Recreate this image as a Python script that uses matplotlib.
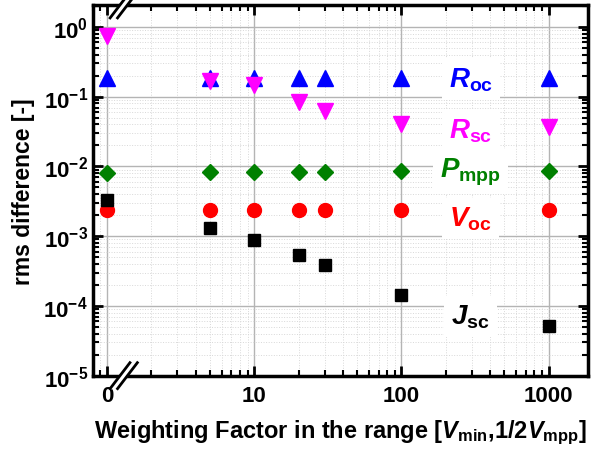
import matplotlib
matplotlib.use("Agg")
import matplotlib.pyplot as plt
import matplotlib.ticker as mticker
import numpy as np

plt.rcParams['font.family'] = 'Liberation Sans'
plt.rcParams['font.weight'] = 'bold'
plt.rcParams['axes.labelweight'] = 'bold'
plt.rcParams['mathtext.fontset'] = 'custom'
plt.rcParams['mathtext.rm'] = 'Liberation Sans:bold'
plt.rcParams['mathtext.it'] = 'Liberation Sans:bold:italic'
plt.rcParams['mathtext.bf'] = 'Liberation Sans:bold'

# weighting factors (0 is drawn at the break position, x=1)
weights = [0, 5, 10, 20, 30, 100, 1000]
r_oc = [0.185, 0.185, 0.185, 0.185, 0.185, 0.185, 0.185]
r_sc = [0.74, 0.17, 0.145, 0.084, 0.063, 0.041, 0.037]
p_mpp = [0.0080, 0.0082, 0.0083, 0.0084, 0.0084, 0.0085, 0.0086]
v_oc = [0.00237, 0.00237, 0.00237, 0.00237, 0.00237, 0.00237, 0.00237]
j_sc = [0.0033, 0.00133, 0.00089, 0.00054, 0.00039, 0.000143, 5.2e-5]

x_ticks = [1, 10, 100, 1000]
x_tick_labels = ['0', '10', '100', '1000']
y_ticks = [1e0, 1e-1, 1e-2, 1e-3, 1e-4, 1e-5]
y_tick_labels = [r'$\mathrm{10^{0}}$', r'$\mathrm{10^{-1}}$', r'$\mathrm{10^{-2}}$',
                 r'$\mathrm{10^{-3}}$', r'$\mathrm{10^{-4}}$', r'$\mathrm{10^{-5}}$']

x = [w if w > 0 else 1 for w in weights]

fig = plt.figure(figsize=(5.91, 4.56), dpi=100)
ax = fig.add_axes([0.157, 0.174, 0.838, 0.813])

ax.set_xscale('log')
ax.set_yscale('log')
ax.set_xlim(0.8, 1850)
ax.set_ylim(1e-5, 2.07)

ax.plot(x, r_oc, '^', color='#0000ff', ms=11, ls='none', zorder=3)
ax.plot(x, r_sc, 'v', color='#ff00ff', ms=11, ls='none', zorder=3)
ax.plot(x, p_mpp, 'D', color='#008000', ms=8, ls='none', zorder=3)
ax.plot(x, v_oc, 'o', color='#ff0000', ms=10, ls='none', zorder=3)
ax.plot(x, j_sc, 's', color='black', ms=9, ls='none', zorder=3)

box = dict(facecolor='white', edgecolor='none', pad=5)
lab_x = 295
lab_fs = 20
ax.text(lab_x, 0.18, r'$R_{\mathrm{oc}}$', color='#0000ff', fontsize=lab_fs, ha='center', va='center', bbox=box, zorder=2)
ax.text(lab_x, 0.033, r'$R_{\mathrm{sc}}$', color='#ff00ff', fontsize=lab_fs, ha='center', va='center', bbox=box, zorder=2)
ax.text(lab_x, 0.0084, r'$P_{\mathrm{mpp}}$', color='#008000', fontsize=lab_fs, ha='center', va='center', bbox=box, zorder=2)
ax.text(lab_x, 0.0018, r'$V_{\mathrm{oc}}$', color='#ff0000', fontsize=lab_fs, ha='center', va='center', bbox=box, zorder=2)
ax.text(lab_x, 7.0e-5, r'$J_{\mathrm{sc}}$', color='black', fontsize=lab_fs, ha='center', va='center', bbox=box, zorder=2)

ax.xaxis.set_major_locator(mticker.FixedLocator(x_ticks))
ax.xaxis.set_major_formatter(mticker.FixedFormatter(x_tick_labels))
ax.xaxis.set_minor_locator(mticker.LogLocator(base=10, subs=np.arange(2, 10), numticks=20))
ax.xaxis.set_minor_formatter(mticker.NullFormatter())
ax.yaxis.set_major_locator(mticker.FixedLocator(y_ticks))
ax.yaxis.set_major_formatter(mticker.FixedFormatter(y_tick_labels))
ax.yaxis.set_minor_locator(mticker.LogLocator(base=10, subs=np.arange(2, 10), numticks=20))
ax.yaxis.set_minor_formatter(mticker.NullFormatter())

ax.grid(True, which='major', color='#b4b4b4', lw=1, zorder=0)
ax.grid(True, which='minor', color='#d8d8d8', lw=0.7, ls=':', zorder=0)
ax.set_axisbelow(True)

ax.tick_params(which='both', direction='in', top=True, right=True, labelsize=16)
ax.tick_params(axis='x', which='major', pad=7)
ax.tick_params(which='major', length=7, width=2)
ax.tick_params(which='minor', length=4, width=1.5)
for s in ax.spines.values():
    s.set_linewidth(2.5)

ax.set_ylabel('rms difference [-]', fontsize=16.5, labelpad=6)
ax.set_xlabel(r'Weighting Factor in the range [$V_{\mathrm{min}}$,1/2$V_{\mathrm{mpp}}$]', fontsize=17, labelpad=8)

# axis break marks
for yb in (0, 1):
    ax.fill([0.035, 0.05, 0.09, 0.075], [yb - 0.035, yb - 0.035, yb + 0.035, yb + 0.035],
            transform=ax.transAxes, color='white', clip_on=False, zorder=5)
    for dx in (0.035, 0.05):
        ax.plot([dx, dx + 0.04], [yb - 0.035, yb + 0.035], transform=ax.transAxes,
                color='black', lw=2, clip_on=False, zorder=6)

fig.savefig('out.png', dpi=100)
